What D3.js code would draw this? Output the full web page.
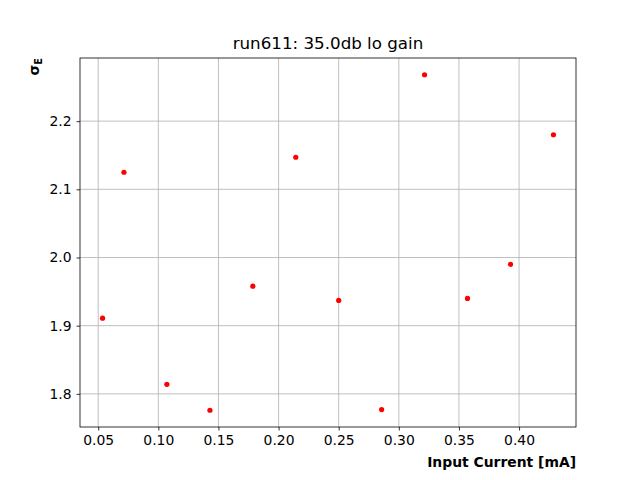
<!DOCTYPE html>
<html>
<head>
<meta charset="utf-8">
<script src="https://cdn.jsdelivr.net/npm/d3@7"></script>
<style>
	body { margin: 0; background: #fff; }
	svg { display: block; font-family: "DejaVu Sans", sans-serif; }
</style>
</head>
<body>
<svg id="chart" width="640" height="480"></svg>
<script>
// data
var current = [0.0536, 0.0714, 0.1071, 0.1429, 0.1786, 0.2143, 0.2500, 0.2857, 0.3214, 0.3571, 0.3929, 0.4286];
var sigmaE = [1.911, 2.125, 1.814, 1.776, 1.958, 2.147, 1.937, 1.777, 2.268, 1.940, 1.990, 2.180];
var xTicks = [0.05, 0.10, 0.15, 0.20, 0.25, 0.30, 0.35, 0.40];
var yTicks = [1.8, 1.9, 2.0, 2.1, 2.2];

var svg = d3.select('#chart'),
	plotL = 80, plotR = 576, plotT = 58, plotB = 427;

// matplotlib style 5% margins
var xPad = (d3.max(current) - d3.min(current)) * 0.05,
	yPad = (d3.max(sigmaE) - d3.min(sigmaE)) * 0.05;

var x = d3.scaleLinear()
	.domain([d3.min(current) - xPad, d3.max(current) + xPad])
	.range([plotL, plotR]);

var y = d3.scaleLinear()
	.domain([d3.min(sigmaE) - yPad, d3.max(sigmaE) + yPad])
	.range([plotB, plotT]);

// grid
svg.append('g')
	.selectAll('line')
	.data(xTicks)
	.enter().append('line')
		.attr('x1', function (d) { return x(d); })
		.attr('x2', function (d) { return x(d); })
		.attr('y1', plotT)
		.attr('y2', plotB)
		.style('stroke', '#b0b0b0')
		.style('stroke-width', 0.8);

svg.append('g')
	.selectAll('line')
	.data(yTicks)
	.enter().append('line')
		.attr('x1', plotL)
		.attr('x2', plotR)
		.attr('y1', function (d) { return y(d); })
		.attr('y2', function (d) { return y(d); })
		.style('stroke', '#b0b0b0')
		.style('stroke-width', 0.8);

// axes
var xAxis = svg.append('g')
	.attr('transform', 'translate(0,' + plotB + ')')
	.call(d3.axisBottom(x).tickValues(xTicks).tickFormat(d3.format('.2f')).tickSize(3.5).tickPadding(5));

var yAxis = svg.append('g')
	.attr('transform', 'translate(' + plotL + ',0)')
	.call(d3.axisLeft(y).tickValues(yTicks).tickFormat(d3.format('.1f')).tickSize(3.5).tickPadding(5));

[xAxis, yAxis].forEach(function (a) {
	a.select('.domain').remove();
	a.selectAll('.tick line').style('stroke', '#000').style('stroke-width', 0.8);
	a.selectAll('.tick text')
		.style('font-family', '"DejaVu Sans", sans-serif')
		.style('font-size', '13.9px')
		.style('fill', '#000');
});

// frame
svg.append('rect')
	.attr('x', plotL)
	.attr('y', plotT)
	.attr('width', plotR - plotL)
	.attr('height', plotB - plotT)
	.style('fill', 'none')
	.style('stroke', '#000')
	.style('stroke-width', 0.8);

// points
svg.append('g')
	.selectAll('circle')
	.data(current)
	.enter().append('circle')
		.attr('cx', function (d) { return x(d); })
		.attr('cy', function (d, i) { return y(sigmaE[i]); })
		.attr('r', 2.6)
		.style('fill', 'red');

// title
svg.append('text')
	.attr('x', (plotL + plotR) / 2)
	.attr('y', plotT - 9)
	.attr('text-anchor', 'middle')
	.style('font-size', '16.7px')
	.text('run611: 35.0db lo gain');

// x label
svg.append('text')
	.attr('x', plotR)
	.attr('y', 467)
	.attr('text-anchor', 'end')
	.style('font-size', '13.9px')
	.style('font-weight', 'bold')
	.text('Input Current [mA]');

// y label
var yl = svg.append('text')
	.attr('transform', 'translate(39,' + plotT + ') rotate(-90)')
	.attr('text-anchor', 'end')
	.style('font-size', '13.9px')
	.style('font-weight', 'bold');
yl.append('tspan').text('σ');
yl.append('tspan').attr('dy', 3).style('font-size', '9.7px').text('E');
</script>
</body>
</html>
